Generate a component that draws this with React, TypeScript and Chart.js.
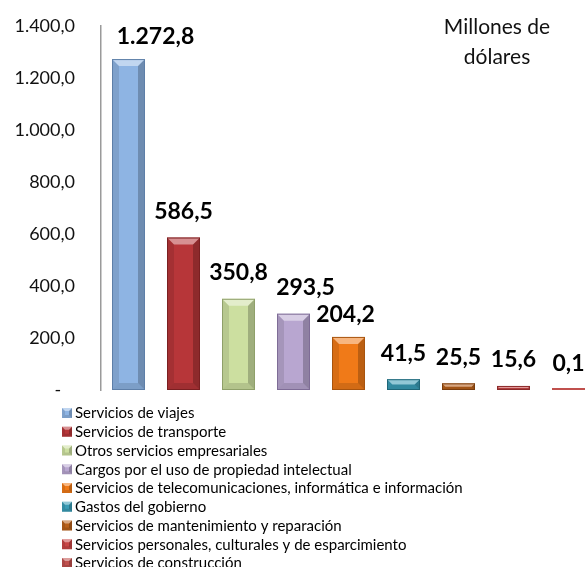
import React, { useEffect, useRef } from "react";
import { Chart, registerables } from "chart.js";

Chart.register(...registerables);

const categories = [
  "Servicios de viajes",
  "Servicios de transporte",
  "Otros servicios empresariales",
  "Cargos por el uso de propiedad intelectual",
  "Servicios de telecomunicaciones, informática e información",
  "Gastos del gobierno",
  "Servicios de mantenimiento y reparación",
  "Servicios personales, culturales y de esparcimiento",
  "Servicios de construcción",
];
const values = [1272.8, 586.5, 350.8, 293.5, 204.2, 41.5, 25.5, 15.6, 0.1];
const colors = [
  "#8EB4E3",
  "#B73639",
  "#CCDFA0",
  "#B8A6D0",
  "#F07A18",
  "#3A9CB5",
  "#B8601A",
  "#C84545",
  "#C0504D",
];
const borderColors = [
  "#5E7FA8",
  "#7A1F21",
  "#8FA06A",
  "#7E6C96",
  "#A8540E",
  "#1E6678",
  "#7A3D0E",
  "#8A2A2A",
  "#C0504D",
];
const yTicks = [0, 200, 400, 600, 800, 1000, 1200, 1400];
const unitLines = ["Millones de", "dólares"];
const FONT = "Lato, 'Open Sans', sans-serif";

function fmt(v: number): string {
  if (v === 0) return "-   ";
  const [i, d] = v.toFixed(1).split(".");
  const withDots = i.replace(/\B(?=(\d{3})+(?!\d))/g, ".");
  return withDots + "," + d;
}

function bevel(ctx: CanvasRenderingContext2D, l: number, t: number, r: number, b: number, e: number) {
  const poly = (pts: number[][], fill: string) => {
    ctx.beginPath();
    ctx.moveTo(pts[0][0], pts[0][1]);
    for (let k = 1; k < pts.length; k++) ctx.lineTo(pts[k][0], pts[k][1]);
    ctx.closePath();
    ctx.fillStyle = fill;
    ctx.fill();
  };
  poly([[l, t], [l + e, t + e], [l + e, b - e], [l, b]], "rgba(0,0,0,0.10)");
  poly([[r, t], [r - e, t + e], [r - e, b - e], [r, b]], "rgba(0,0,0,0.22)");
  poly([[l, t], [r, t], [r - e, t + e], [l + e, t + e]], "rgba(255,255,255,0.45)");
  poly([[l, b], [r, b], [r - e, b - e], [l + e, b - e]], "rgba(0,0,0,0.12)");
}

const labelShift = [27, 0, 0, 12, -3, 0, 0, 0, 0];
const labelRise = [22, 26, 26, 26, 22, 26, 26, 26, 24];

const decorPlugin = {
  id: "decor",
  afterDatasetsDraw(chart: any) {
    const ctx: CanvasRenderingContext2D = chart.ctx;
    const meta = chart.getDatasetMeta(0);
    ctx.save();
    meta.data.forEach((bar: any, i: number) => {
      const w = bar.width;
      const l = bar.x - w / 2;
      const r = bar.x + w / 2;
      const t = Math.min(bar.y, bar.base);
      const b = Math.max(bar.y, bar.base);
      const h = b - t;
      if (h < 3) return;
      const e = Math.min(7, h / 2);
      bevel(ctx, l, t, r, b, e);
      ctx.strokeStyle = borderColors[i];
      ctx.lineWidth = 1;
      ctx.strokeRect(l + 0.5, t + 0.5, w - 1, h - 1);
    });
    ctx.fillStyle = "#000";
    ctx.font = `bold 23px ${FONT}`;
    ctx.textAlign = "center";
    ctx.textBaseline = "middle";
    meta.data.forEach((bar: any, i: number) => {
      ctx.fillText(fmt(values[i]), bar.x + labelShift[i], bar.y - labelRise[i]);
    });
    ctx.font = `21px ${FONT}`;
    ctx.fillStyle = "#111";
    unitLines.forEach((s, k) => ctx.fillText(s, 497, 27 + k * 30));
    ctx.font = `15px ${FONT}`;
    ctx.textAlign = "left";
    const x0 = 62;
    const y0 = 413;
    const step = 18.75;
    categories.forEach((c, i) => {
      const cy = y0 + i * step;
      ctx.fillStyle = colors[i];
      ctx.fillRect(x0, cy - 5, 10, 10);
      bevel(ctx, x0, cy - 5, x0 + 10, cy + 5, 3);
      ctx.fillStyle = "#000";
      ctx.fillText(c, x0 + 13, cy + 0.5);
    });
    ctx.restore();
  },
};

export default function App() {
  const ref = useRef<HTMLCanvasElement | null>(null);
  useEffect(() => {
    if (!ref.current) return;
    const chart = new Chart(ref.current, {
      type: "bar",
      data: {
        labels: categories,
        datasets: [
          {
            data: values,
            backgroundColor: colors,
            borderColor: borderColors,
            borderWidth: 0,
            barPercentage: 0.6,
            categoryPercentage: 1,
            minBarLength: 2,
          },
        ],
      },
      options: {
        animation: false,
        responsive: false,
        devicePixelRatio: 1,
        layout: { padding: { left: 0, right: 24, top: 26, bottom: 177 } },
        plugins: {
          legend: { display: false },
          tooltip: { enabled: false },
        },
        scales: {
          x: { display: false, offset: true },
          y: {
            min: 0,
            max: 1400,
            afterBuildTicks: (scale: any) => {
              scale.ticks = yTicks.map((v) => ({ value: v }));
            },
            afterFit: (scale: any) => {
              scale.width = 101;
              scale.paddingTop = 0;
              scale.paddingBottom = 0;
            },
            grid: { display: false, drawTicks: false },
            border: { display: true, color: "#9a9a9a", width: 1.5 },
            ticks: {
              padding: 26,
              color: "#111",
              font: { family: FONT, size: 18 },
              callback: (v: any) => fmt(Number(v)),
            },
          },
        },
      },
      plugins: [decorPlugin],
    });
    return () => chart.destroy();
  }, []);
  return (
    <div
      style={{
        position: "absolute",
        left: 0,
        top: 0,
        width: 586,
        height: 567,
        overflow: "hidden",
        background: "#fff",
      }}
    >
      <canvas ref={ref} width={620} height={567} style={{ display: "block" }} />
    </div>
  );
}
